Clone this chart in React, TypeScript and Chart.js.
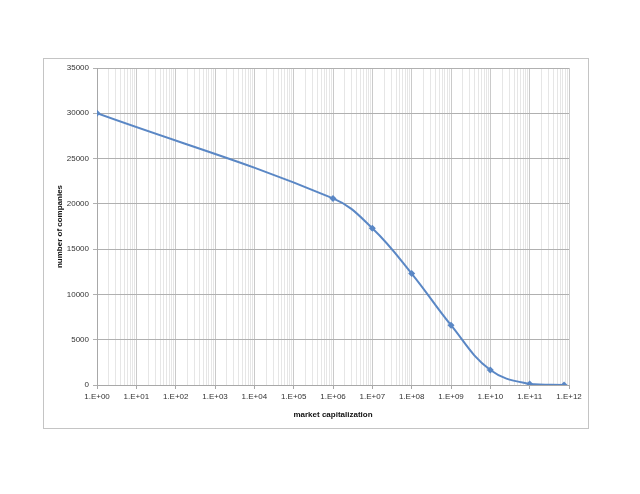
import React, { useEffect, useRef } from "react";
import { Chart, registerables } from "chart.js";

Chart.register(...registerables);

const marketCap = [1, 1e6, 1e7, 1e8, 1e9, 1e10, 1e11, 7.5e11];
const companies = [30000, 20600, 17300, 12300, 6600, 1650, 120, 0];
const decadeExponents = [0, 1, 2, 3, 4, 5, 6, 7, 8, 9, 10, 11, 12];
const decadeLabels = decadeExponents.map((e) => "1.E+" + String(e).padStart(2, "0"));
const minorSteps = [1, 2, 3, 4, 5, 6, 7, 8, 9];
const yTickStep = 5000;

type TickDef = { value: number; label: string; major: boolean };

const xTickDefs: TickDef[] = [];
decadeExponents.forEach((e, i) => {
  if (i === decadeExponents.length - 1) {
    xTickDefs.push({ value: Math.pow(10, e), label: decadeLabels[i], major: true });
    return;
  }
  minorSteps.forEach((m) => {
    xTickDefs.push({
      value: m * Math.pow(10, e),
      label: m === 1 ? decadeLabels[i] : "",
      major: m === 1,
    });
  });
});

const frame = {
  id: "frame",
  beforeDraw(chart: any) {
    const ctx = chart.ctx;
    ctx.save();
    ctx.fillStyle = "#ffffff";
    ctx.fillRect(0, 0, chart.width, chart.height);
    ctx.strokeStyle = "#c4c4c4";
    ctx.lineWidth = 1;
    ctx.strokeRect(43.5, 58.5, 545, 370);
    ctx.restore();
  },
};

export default function App() {
  const ref = useRef<HTMLCanvasElement | null>(null);
  useEffect(() => {
    if (!ref.current) return;
    const font = { family: "'Liberation Sans', Arial, sans-serif", size: 8 };
    const chart = new Chart(ref.current, {
      type: "line",
      data: {
        datasets: [
          {
            data: marketCap.map((x, i) => ({ x, y: companies[i] })),
            borderColor: "#5a87c5",
            backgroundColor: "#5a87c5",
            borderWidth: 2,
            pointStyle: "rectRot",
            pointRadius: 3.5,
            pointBorderWidth: 0,
            tension: 0.4,
            fill: false,
          },
        ],
      },
      options: {
        animation: false,
        responsive: false,
        layout: { padding: { left: 44, top: 68, right: 71, bottom: 66 } },
        plugins: { legend: { display: false }, tooltip: { enabled: false } },
        scales: {
          x: {
            type: "logarithmic",
            min: 1,
            max: 1e12,
            afterFit: (s: any) => {
              s.height = 43;
            },
            afterBuildTicks: (s: any) => {
              s.ticks = xTickDefs.map((t) => ({ value: t.value }));
            },
            ticks: {
              autoSkip: false,
              maxRotation: 0,
              minRotation: 0,
              padding: 3,
              color: "#333",
              font,
              callback: (_v: any, i: number) => xTickDefs[i].label,
            },
            grid: {
              color: (c: any) => (xTickDefs[c.index] && xTickDefs[c.index].major ? "#cacaca" : "#e6e6e6"),
              tickColor: (c: any) => (xTickDefs[c.index] && xTickDefs[c.index].major ? "#a8a8a8" : "rgba(0,0,0,0)"),
              tickLength: 4,
              lineWidth: 1,
            },
            border: { color: "#a8a8a8" },
            title: {
              display: true,
              text: "market capitalization",
              color: "#111",
              font: { ...font, weight: "bold" },
              padding: { top: 0, bottom: 8.5 },
            },
          },
          y: {
            min: 0,
            max: 35000,
            afterFit: (s: any) => {
              s.width = 53;
            },
            ticks: {
              stepSize: yTickStep,
              padding: 4,
              color: "#333",
              font,
              callback: (v: any) => String(v),
            },
            grid: { color: "#b0b0b0", tickColor: "#b0b0b0", tickLength: 4, lineWidth: 1 },
            border: { color: "#a8a8a8" },
            title: {
              display: true,
              text: "number of companies",
              color: "#111",
              font: { ...font, weight: "bold" },
              padding: { top: 11, bottom: 0 },
            },
          },
        },
      },
      plugins: [frame],
    } as any);
    return () => chart.destroy();
  }, []);
  return (
    <div style={{ position: "fixed", left: 0, top: 0, width: 640, height: 494, background: "#fff" }}>
      <canvas ref={ref} width={640} height={494} style={{ display: "block" }} />
    </div>
  );
}
